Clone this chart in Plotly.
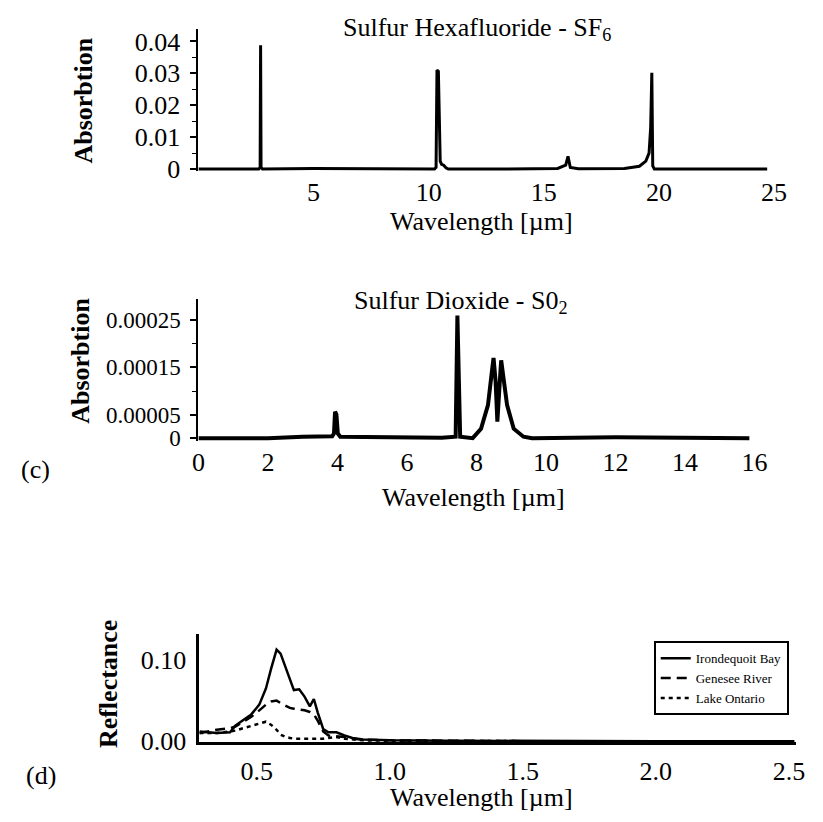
import plotly.graph_objects as go

W, H = 823, 822

# ---------------- data ----------------
# (a) Sulfur Hexafluoride - SF6
sf6_wavelength = [0.0, 1.5, 2.62, 2.68, 2.70, 2.72, 2.78, 5.0, 8.0, 10.25, 10.32, 10.36, 10.42,
                  10.50, 10.56, 10.65, 10.75, 10.85, 13.0, 15.6, 15.95, 16.05, 16.15, 16.5,
                  18.5, 19.15, 19.43, 19.57, 19.64, 19.69, 19.73, 19.8, 22.0, 24.7]
sf6_absorption = [0.0, 0.0, 0.0, 0.0005, 0.0388, 0.0005, 0.0, 0.0002, 0.0001, 0.0, 0.0005, 0.031,
                  0.0306, 0.0025, 0.0015, 0.0012, 0.0004, 0.0, 0.0, 0.0002, 0.0012, 0.004, 0.0005,
                  0.0001, 0.0002, 0.0009, 0.0025, 0.005, 0.013, 0.0302, 0.001, 0.0, 0.0, 0.0]

# (b) Sulfur Dioxide - SO2
so2_wavelength = [0.0, 2.0, 3.0, 3.85, 3.90, 3.93, 3.97, 4.01, 4.08, 5.0, 7.0, 7.40, 7.45, 7.53,
                  7.89, 8.13, 8.33, 8.44, 8.49, 8.55, 8.60, 8.67, 8.71, 8.79, 8.88, 9.07, 9.35,
                  9.6, 12.0, 15.85]
so2_absorption = [0.0, 0.0, 0.000003, 0.000004, 0.00001, 0.000056, 0.00005, 0.00001, 0.000003,
                  0.000002, 0.000001, 0.000003, 0.00026, 0.000003, 0.0, 0.00002, 0.00007,
                  0.00014, 0.00017, 0.00012, 0.000035, 0.00012, 0.000165, 0.00012, 0.00007,
                  0.00002, 0.000003, 0.0, 0.000002, 0.0]

# (d) Reflectance of water bodies
refl_wavelength = [0.285, 0.35, 0.40, 0.42, 0.45, 0.48, 0.51, 0.535, 0.555, 0.575, 0.59, 0.61,
                   0.625, 0.64, 0.66, 0.68, 0.70, 0.715, 0.73, 0.75, 0.77, 0.80, 0.83, 0.86,
                   0.90, 1.0, 1.2, 1.5, 2.0, 2.52]
irondequoit_bay = [0.012, 0.010, 0.011, 0.019, 0.026, 0.033, 0.045, 0.065, 0.090, 0.113, 0.108,
                   0.090, 0.075, 0.063, 0.064, 0.055, 0.043, 0.052, 0.035, 0.015, 0.011, 0.011,
                   0.007, 0.004, 0.002, 0.001, 0.0005, 0.0, 0.0, 0.0]
genesee_river = [0.010, 0.014, 0.016, 0.018, 0.024, 0.030, 0.038, 0.045, 0.049, 0.050, 0.047,
                 0.043, 0.041, 0.040, 0.039, 0.038, 0.036, 0.033, 0.025, 0.012, 0.007, 0.006,
                 0.005, 0.003, 0.002, 0.001, 0.0005, 0.0, 0.0, 0.0]
lake_ontario = [0.010, 0.010, 0.012, 0.013, 0.016, 0.019, 0.022, 0.024, 0.020, 0.014, 0.008,
                0.005, 0.004, 0.003, 0.003, 0.003, 0.003, 0.003, 0.003, 0.003, 0.004, 0.005,
                0.003, 0.002, 0.001, 0.0005, 0.0, 0.0, 0.0, 0.0]

sf6_ticks = [5, 10, 15, 20, 25]
sf6_yticks = [0, 0.01, 0.02, 0.03, 0.04]
sf6_ytext = ["0", "0.01", "0.02", "0.03", "0.04"]
so2_ticks = [0, 2, 4, 6, 8, 10, 12, 14, 16]
so2_yticks = [0, 0.00005, 0.00015, 0.00025]
so2_ytext = ["0", "0.00005", "0.00015", "0.00025"]
refl_ticks = [0.5, 1.0, 1.5, 2.0, 2.5]
refl_ttext = ["0.5", "1.0", "1.5", "2.0", "2.5"]
refl_yticks = [0, 0.10]
refl_ytext = ["0.00", "0.10"]

# ---------------- helpers ----------------
def px(x):
    return x / W

def py(y):
    return 1 - y / H

FONT = "Liberation Serif, Times New Roman, serif"
TICKF = dict(family=FONT, size=26, color="black")

fig = go.Figure()

fig.add_trace(go.Scatter(x=sf6_wavelength, y=sf6_absorption, mode="lines",
                         line=dict(color="black", width=3), xaxis="x", yaxis="y",
                         showlegend=False))
fig.add_trace(go.Scatter(x=so2_wavelength, y=so2_absorption, mode="lines",
                         line=dict(color="black", width=4), xaxis="x2", yaxis="y2",
                         showlegend=False))
fig.add_trace(go.Scatter(x=refl_wavelength, y=irondequoit_bay, mode="lines",
                         name="Irondequoit Bay", line=dict(color="black", width=2.5),
                         xaxis="x3", yaxis="y3"))
fig.add_trace(go.Scatter(x=refl_wavelength, y=genesee_river, mode="lines",
                         name="Genesee River",
                         line=dict(color="black", width=2.5, dash="10px,6px"),
                         xaxis="x3", yaxis="y3"))
fig.add_trace(go.Scatter(x=refl_wavelength, y=lake_ontario, mode="lines",
                         name="Lake Ontario",
                         line=dict(color="black", width=2.5, dash="4px,4px"),
                         xaxis="x3", yaxis="y3"))

xcommon = dict(showline=False, showgrid=False, zeroline=False, ticks="",
               tickfont=TICKF, ticklabelstandoff=3)
ycommon = dict(showline=True, linecolor="black", linewidth=2, showgrid=False,
               zeroline=False, tickfont=TICKF, ticks="outside", ticklen=6,
               tickwidth=1.5, tickcolor="black", ticklabelstandoff=5)

fig.update_layout(
    width=W, height=H,
    margin=dict(l=0, r=0, t=0, b=0),
    paper_bgcolor="white", plot_bgcolor="white",
    font=dict(family=FONT, color="black"),
    xaxis=dict(domain=[px(188), px(778)], range=[0, 25], anchor="y",
               tickvals=sf6_ticks, **xcommon),
    yaxis=dict(domain=[py(165), py(20)], range=[-0.0006, 0.044], anchor="x",
               tickvals=sf6_yticks, ticktext=sf6_ytext,
               minor=dict(dtick=0.005, tick0=0, ticks="outside", ticklen=4,
                          tickcolor="black", tickwidth=1.2),
               **ycommon),
    xaxis2=dict(domain=[px(188), px(758)], range=[0, 16], anchor="y2",
                tickvals=so2_ticks, **xcommon),
    yaxis2=dict(domain=[py(440), py(295)], range=[-0.000006, 0.000296], anchor="x2",
                tickvals=so2_yticks, ticktext=so2_ytext,
                minor=dict(dtick=0.00005, tick0=0, ticks="outside", ticklen=4,
                           tickcolor="black", tickwidth=1.2),
                **{**ycommon, "tickfont": dict(family=FONT, size=23, color="black")}),
    xaxis3=dict(domain=[px(189), px(800)], range=[0.285, 2.525], anchor="y3",
                tickvals=refl_ticks, ticktext=refl_ttext,
                **{**xcommon, "showline": True, "linecolor": "black", "linewidth": 3}),
    yaxis3=dict(domain=[py(747), py(637)], range=[-0.0015, 0.1317], anchor="x3",
                tickvals=refl_yticks, ticktext=refl_ytext,
                **{**ycommon, "ticks": "", "linewidth": 3}),
    legend=dict(x=px(793), xanchor="right", y=py(644), yanchor="top",
                bordercolor="black", borderwidth=2, bgcolor="white",
                font=dict(family=FONT, size=13, color="black"),
                tracegroupgap=0, itemwidth=30),
)

ann = [
    dict(text="Sulfur Hexafluoride - SF<sub>6</sub>", x=px(473), y=py(20)),
    dict(text="Wavelength [µm]", x=px(478), y=py(216)),
    dict(text="Sulfur Dioxide - S0<sub>2</sub>", x=px(457), y=py(298)),
    dict(text="Wavelength [µm]", x=px(470), y=py(498)),
    dict(text="Wavelength [µm]", x=px(478), y=py(803)),
    dict(text="(c)", x=px(21), y=py(469)),
    dict(text="(d)", x=px(27), y=py(781)),
]
for a in ann:
    fig.add_annotation(text=a["text"], x=a["x"], y=a["y"], xref="paper", yref="paper",
                       showarrow=False, xanchor="center", yanchor="middle",
                       font=dict(family=FONT, size=26, color="black"))

for txt, x, y in [("<b>Absorbtion</b>", 70, 93), ("<b>Absorbtion</b>", 67, 358),
                  ("<b>Reflectance</b>", 96, 688)]:
    fig.add_annotation(text=txt, x=px(x), y=py(y), xref="paper", yref="paper",
                       showarrow=False, textangle=-90, xanchor="center", yanchor="middle",
                       font=dict(family=FONT, size=26, color="black"))

fig.write_html("out.html")
